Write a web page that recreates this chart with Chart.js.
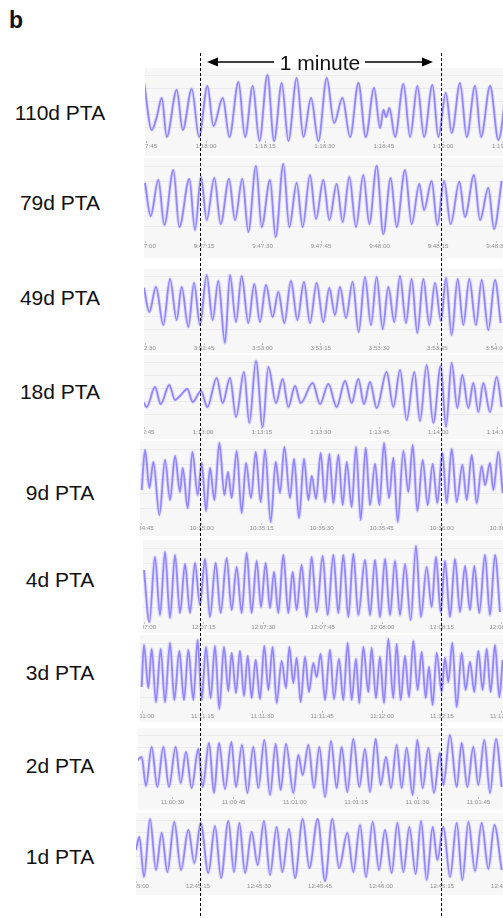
<!DOCTYPE html>
<html>
<head>
<meta charset="utf-8">
<script src="https://cdn.jsdelivr.net/npm/chart.js@4.4.0/dist/chart.umd.min.js"></script>
<style>
  body { margin: 0; background: #fff; }
  #fig { position: relative; width: 503px; height: 918px; overflow: hidden; font-family: "Liberation Sans", Arial, sans-serif; color: #111; }
  .panel { position: absolute; background: #f7f7f7; overflow: hidden; }
  .panel canvas { position: absolute; top: 0; }
  .lbl { position: absolute; left: 0; width: 120px; text-align: center; font-size: 21px; line-height: 24px; white-space: nowrap; }
</style>
</head>
<body>
<div id="fig">
  <div style="position:absolute;left:9px;top:7px;font-weight:bold;font-size:23px;line-height:26px">b</div>
</div>

<script>
// trace names and clock time of the first (cut off) tick label of each trace
const traceLabels = ['110d PTA', '79d PTA', '49d PTA', '18d PTA', '9d PTA', '4d PTA', '3d PTA', '2d PTA', '1d PTA'];
const startTimes = ['1:17:45', '9:47:00', '3:52:30', '1:12:45', '10:34:45', '12:07:00', '11:11:00', '11:00:15', '12:45:00'];

// breathing traces: seconds after start time, and signal level at each turning point
const time110d = [-0.7, 1.27, 2.53, 3.8, 5.06, 7.59, 9.11, 11.39, 13.25, 15.36, 16.88, 19.24, 20.93, 23.21, 24.89, 26.84, 28.52, 30.55, 32.24, 34.18, 35.86, 37.97, 39.66, 41.6, 43.46, 45.57, 47.43, 49.54, 51.48, 53.59, 55.44, 57.55, 59.07, 59.92, 60.59, 61.43, 62.87, 64.98, 66.67, 68.52, 70.21, 72.32, 73.84, 75.7, 77.22, 79.32, 81.01, 83.12, 84.64, 86.92, 89.03, 91.1];
const level110d = [59, 11, 24, 43, 4, 51, 11, 52, 4, 55, 15, 43, 4, 59, 4, 55, 0, 66, 0, 58, 0, 63, 4, 43, 0, 63, 18, 43, 4, 58, 4, 53, 13, 31, 24, 33, 4, 57, 4, 55, 4, 56, 4, 48, 8, 58, 4, 55, 4, 55, 1, 54];

const time79d = [-0.13, 1.32, 3.29, 4.83, 7.14, 8.68, 11.24, 12.69, 14.23, 15.68, 17.65, 19.27, 21.41, 22.95, 24.83, 26.37, 28.33, 29.79, 31.92, 33.38, 35.34, 36.88, 38.76, 40.3, 42.18, 43.72, 45.6, 47.14, 49.02, 50.56, 52.26, 53.97, 55.85, 57.39, 59.27, 60.98, 62.86, 64.4, 66.54, 68.25, 70.21, 71.41, 73.38, 74.83, 76.54, 78.25, 80.47, 81.92, 84.23, 85.77, 87.91, 89.36, 91.33];
const level79d = [58, 25, 61, 16, 71, 14, 62, 11, 64, 21, 63, 17, 62, 21, 62, 9, 75, 14, 61, 4, 77, 14, 58, 14, 66, 22, 61, 21, 57, 19, 64, 14, 66, 17, 75, 7, 63, 14, 71, 17, 57, 31, 60, 16, 60, 17, 59, 24, 66, 21, 53, 12, 60];

const time49d = [-0.43, 0.94, 2.66, 4.54, 6.26, 7.97, 9.25, 10.97, 12.43, 13.97, 15.68, 17.22, 18.68, 20.39, 21.68, 23.22, 24.68, 26.39, 27.93, 29.39, 30.93, 32.65, 34.1, 35.65, 37.36, 38.99, 40.7, 42.24, 43.96, 45.67, 47.21, 48.67, 49.96, 51.5, 53.21, 54.76, 56.38, 57.93, 59.38, 60.93, 62.38, 63.92, 65.38, 66.92, 68.38, 69.84, 71.38, 72.92, 74.38, 75.92, 77.21, 78.66, 80.21, 81.66, 83.2, 84.92, 86.38, 88.09, 89.8, 91.26];
const level49d = [55, 31, 56, 18, 64, 23, 56, 16, 60, 18, 68, 23, 62, 0, 68, 21, 67, 20, 59, 21, 58, 26, 51, 20, 62, 23, 61, 20, 60, 21, 55, 28, 56, 25, 61, 11, 66, 18, 66, 14, 56, 21, 67, 20, 64, 10, 64, 18, 60, 22, 65, 8, 64, 18, 64, 18, 63, 13, 63, 20];

const time18d = [-0.22, 0.63, 2.76, 4.2, 6.41, 7.86, 9.14, 11.0, 12.36, 14.49, 16.11, 18.49, 20.02, 21.89, 23.42, 25.46, 26.82, 28.52, 30.22, 31.67, 33.62, 35.32, 36.77, 38.47, 39.92, 42.98, 44.85, 46.98, 49.1, 51.23, 52.93, 54.63, 56.07, 57.6, 59.3, 61.85, 63.56, 65.26, 66.96, 68.91, 70.36, 72.06, 73.76, 75.63, 76.99, 78.44, 79.88, 81.16, 82.69, 83.96, 85.24, 86.51, 88.21, 89.91, 91.19];
const level18d = [25, 20, 40, 23, 42, 27, 31, 38, 25, 36, 20, 49, 24, 49, 10, 55, 4, 66, 0, 60, 24, 48, 20, 41, 24, 44, 23, 43, 20, 46, 24, 48, 23, 45, 19, 55, 20, 57, 7, 55, 6, 62, 4, 61, 0, 64, 19, 52, 19, 44, 15, 44, 15, 50, 20];

const time9d = [0, 0.83, 1.92, 2.92, 4.42, 5.83, 7.08, 8.33, 9.58, 10.25, 11.5, 12.67, 14, 15, 16.08, 17.08, 18.17, 19.42, 20.67, 21.58, 22.5, 23.75, 25, 26.08, 27.33, 28.5, 29.75, 30.83, 32.25, 33.5, 34.58, 35.67, 37.08, 38.08, 39.33, 40.58, 41.67, 42.5, 43.58, 44.75, 45.83, 46.92, 47.92, 49.17, 50.25, 51.25, 52.5, 53.58, 54.75, 56, 57.08, 58.33, 59.42, 60.58, 61.83, 62.92, 64, 65.42, 66.67, 67.75, 68.92, 70.25, 71.5, 72.75, 73.92, 75.17, 76.25, 77.5, 78.75, 80.17, 81.25, 82.5, 83.75, 85, 85.83, 87.08, 87.92, 89.17, 90.25];
const level9d = [33, 73, 35, 61, 8, 63, 23, 67, 31, 55, 15, 71, 28, 60, 12, 55, 23, 80, 28, 51, 25, 72, 10, 60, 25, 71, 21, 73, 1, 61, 30, 76, 25, 64, 5, 64, 23, 47, 24, 70, 21, 69, 20, 68, 18, 61, 16, 76, 3, 75, 18, 59, 18, 80, 25, 65, 1, 72, 31, 78, 12, 63, 18, 59, 20, 70, 20, 74, 21, 58, 23, 68, 20, 57, 38, 60, 33, 71, 30];

const time4d = [-0.04, 1.3, 2.73, 3.99, 5.25, 6.51, 7.77, 9.03, 10.29, 11.55, 12.8, 14.06, 15.32, 16.58, 18.01, 19.27, 20.78, 22.04, 23.3, 24.56, 25.82, 27.08, 28.34, 29.43, 30.61, 31.7, 32.7, 33.79, 35.05, 36.31, 37.41, 38.41, 39.67, 40.93, 42.19, 43.45, 44.96, 46.22, 47.65, 48.91, 50.17, 51.43, 52.69, 53.95, 55.63, 56.89, 58.15, 59.41, 60.67, 61.93, 63.19, 64.45, 65.71, 67.14, 68.47, 69.73, 71.16, 72.42, 73.51, 74.69, 75.78, 77.04, 78.3, 79.56, 80.82, 82.07, 83.16, 84.42, 85.85, 87.11, 88.37, 89.63];
const level4d = [52, 0, 65, 7, 70, 4, 67, 9, 58, 9, 59, 17, 63, 5, 59, 9, 64, 12, 55, 9, 69, 9, 61, 15, 59, 14, 50, 9, 67, 9, 50, 12, 57, 5, 65, 10, 66, 7, 67, 9, 67, 5, 68, 7, 62, 7, 62, 5, 63, 7, 61, 7, 58, 2, 76, 5, 55, 15, 65, 10, 61, 5, 63, 10, 56, 12, 56, 9, 67, 7, 67, 10];

const time3d = [-0.25, 0.33, 1.42, 2.26, 3.34, 4.51, 5.6, 6.85, 7.94, 9.19, 10.36, 11.45, 12.7, 13.78, 14.79, 15.87, 17.04, 18.13, 19.21, 20.38, 21.47, 22.31, 23.39, 24.39, 25.4, 26.32, 27.32, 28.32, 29.41, 30.49, 31.5, 32.58, 33.58, 34.84, 35.92, 36.76, 37.76, 38.6, 39.6, 40.69, 41.69, 42.77, 43.61, 44.61, 45.7, 46.95, 47.95, 49.21, 50.29, 51.38, 52.38, 53.47, 54.3, 55.31, 56.56, 57.39, 58.48, 59.48, 60.49, 61.57, 62.82, 63.66, 64.66, 65.75, 66.75, 67.84, 68.92, 69.93, 70.93, 71.76, 72.68, 73.68, 74.94, 75.77, 76.61, 77.61, 78.7, 79.95, 80.95, 82.04, 83.12, 84.13, 85.21, 86.22, 87.22, 88.3, 89.39, 90.23];
const level3d = [24, 66, 23, 62, 9, 62, 9, 68, 11, 60, 11, 61, 11, 71, 11, 64, 13, 65, 2, 64, 20, 58, 18, 60, 15, 55, 13, 51, 12, 65, 21, 64, 8, 50, 23, 64, 28, 53, 9, 54, 19, 48, 34, 57, 11, 61, 12, 52, 11, 68, 11, 52, 8, 64, 19, 63, 13, 54, 8, 72, 13, 67, 11, 55, 14, 70, 21, 59, 13, 44, 6, 58, 19, 53, 29, 68, 4, 58, 21, 49, 19, 60, 21, 62, 19, 66, 14, 51];

const time2d = [6.2, 7.44, 8.5, 9.89, 11.28, 12.75, 14.14, 15.77, 17.0, 18.31, 19.69, 21.33, 22.39, 23.95, 25.17, 26.4, 27.87, 29.42, 30.56, 32.03, 33.34, 34.81, 36.04, 37.51, 38.9, 40.29, 41.51, 42.82, 44.62, 45.84, 46.9, 48.3, 49.68, 50.99, 52.38, 53.85, 55.24, 56.46, 57.85, 59.32, 60.79, 62.18, 63.41, 64.79, 66.02, 67.33, 68.55, 69.94, 71.17, 72.39, 73.86, 75.01, 76.32, 77.71, 79.09, 80.56, 81.38, 83.01, 84.65, 85.87, 87.26, 88.73, 89.96, 91.43, 92.82, 94.29, 95.68];
const level2d = [36, 40, 11, 50, 10, 50, 10, 50, 14, 45, 9, 48, 10, 54, 4, 54, 8, 55, 10, 52, 4, 50, 9, 57, 2, 53, 7, 53, 4, 42, 22, 52, 9, 50, 0, 56, 9, 50, 5, 58, 10, 48, 5, 58, 12, 40, 9, 52, 9, 49, 2, 57, 9, 49, 4, 44, 12, 62, 10, 54, 10, 50, 12, 57, 4, 58, 10];

const time1d = [-0.25, 0.57, 1.72, 3.2, 4.67, 6.07, 7.46, 9.18, 10.82, 12.62, 14.1, 15.66, 17.54, 19.18, 20.66, 22.46, 23.85, 25.16, 26.56, 28.2, 29.67, 31.23, 32.7, 34.34, 35.74, 37.38, 38.85, 40.74, 42.38, 44.43, 46.23, 48.03, 49.67, 51.72, 53.2, 54.84, 56.31, 57.95, 59.51, 60.98, 62.62, 64.02, 65.49, 66.97, 68.52, 69.84, 71.23, 72.7, 73.85, 75.33, 76.97, 78.61, 80, 81.48, 83.11, 84.75, 86.39, 87.87, 89.67];
const level1d = [31, 44, 4, 62, 11, 48, 9, 59, 11, 51, 18, 58, 8, 55, 3, 60, 9, 58, 8, 49, 16, 60, 6, 54, 9, 52, 3, 62, 13, 62, 0, 62, 13, 48, 9, 56, 4, 59, 11, 51, 8, 58, 9, 54, 7, 60, 1, 54, 21, 54, 4, 58, 1, 59, 10, 58, 12, 56, 11];

const traces = [
  [time110d, level110d], [time79d, level79d], [time49d, level49d], [time18d, level18d],
  [time9d, level9d], [time4d, level4d], [time3d, level3d], [time2d, level2d], [time1d, level1d]
];

// page layout of each screenshot strip
const panelBoxes = [
  { top: 68,  bottom: 156, left: 145, axisY: 141, x0: 146.75, pps: 3.95,  labelY: 101 },
  { top: 158, bottom: 258, left: 144, axisY: 241, x0: 145.5,  pps: 3.9,   labelY: 191 },
  { top: 269, bottom: 353, left: 144, axisY: 343, x0: 145.65, pps: 3.89,  labelY: 286 },
  { top: 355, bottom: 439, left: 144, axisY: 427, x0: 144.2,  pps: 3.92,  labelY: 380 },
  { top: 441, bottom: 536, left: 140, axisY: 523, x0: 141.7,  pps: 4.0,   labelY: 481 },
  { top: 540, bottom: 633, left: 143, axisY: 622, x0: 144.15, pps: 3.97,  labelY: 568 },
  { top: 635, bottom: 722, left: 140, axisY: 711, x0: 142.65, pps: 3.99,  labelY: 661 },
  { top: 728, bottom: 810, left: 138, axisY: 797, x0: 111.3,  pps: 4.08,  labelY: 754 },
  { top: 813, bottom: 895, left: 136, axisY: 881, x0: 137,    pps: 4.067, labelY: 845 }
];

const CANVAS_LEFT = 60, CANVAS_W = 540, AXIS_H = 10;
const fig = document.getElementById('fig');

function toSec(str) {
  const p = str.split(':').map(Number);
  return p[0] * 3600 + p[1] * 60 + p[2];
}
function clock(sec) {
  const h = Math.floor(sec / 3600), m = Math.floor((sec % 3600) / 60), s = Math.round(sec % 60);
  return h + ':' + String(m).padStart(2, '0') + ':' + String(s).padStart(2, '0');
}

traces.forEach(([times, levels], i) => {
  const box = panelBoxes[i];

  const lbl = document.createElement('div');
  lbl.className = 'lbl';
  lbl.style.top = box.labelY + 'px';
  lbl.textContent = traceLabels[i];
  fig.appendChild(lbl);

  const div = document.createElement('div');
  div.className = 'panel';
  div.style.left = box.left + 'px';
  div.style.top = box.top + 'px';
  div.style.width = (503 - box.left) + 'px';
  div.style.height = (box.bottom - box.top) + 'px';
  const cv = document.createElement('canvas');
  const h = box.axisY - box.top + AXIS_H;
  cv.width = CANVAS_W; cv.height = h;
  cv.style.width = CANVAS_W + 'px'; cv.style.height = h + 'px';
  cv.style.left = (CANVAS_LEFT - box.left) + 'px';
  div.appendChild(cv);
  fig.appendChild(div);

  const xMin = (CANVAS_LEFT - box.x0) / box.pps;
  const xMax = xMin + CANVAS_W / box.pps;
  const yMax = box.axisY - box.top;
  const start = toSec(startTimes[i]);
  const points = times.map((t, k) => ({ x: t, y: levels[k] }));

  new Chart(cv, {
    type: 'line',
    data: {
      datasets: [{
        data: points,
        borderColor: 'rgba(126,112,255,0.78)',
        borderWidth: 1.8,
        pointRadius: 0,
        cubicInterpolationMode: 'monotone',
        fill: false,
        clip: false
      }, {
        // soft halo of the screenshot's blurred stroke
        data: points,
        borderColor: 'rgba(150,140,255,0.25)',
        borderWidth: 3.6,
        pointRadius: 0,
        cubicInterpolationMode: 'monotone',
        fill: false,
        clip: false
      }]
    },
    options: {
      responsive: false,
      animation: false,
      devicePixelRatio: 1,
      layout: { padding: 0 },
      plugins: { legend: { display: false }, tooltip: { enabled: false } },
      scales: {
        x: {
          type: 'linear', min: xMin, max: xMax, bounds: 'data',
          afterBuildTicks: ax => {
            const ticks = [];
            for (let t = Math.ceil(xMin / 15) * 15; t <= xMax; t += 15) ticks.push({ value: t });
            ax.ticks = ticks;
          },
          afterFit: ax => { ax.height = AXIS_H; ax.paddingLeft = 0; ax.paddingRight = 0; },
          ticks: {
            callback: v => clock(start + v),
            font: { family: 'Liberation Sans', size: 6.2 },
            color: '#909090', padding: 0, maxRotation: 0, autoSkip: false
          },
          grid: { drawOnChartArea: false, tickLength: 2, tickColor: '#c4c4c4' },
          border: { display: false }
        },
        y: {
          min: 0, max: yMax,
          afterBuildTicks: ax => { ax.ticks = [1, 2, 3, 4, 5].map(k => ({ value: yMax * k / 5.6 })); },
          afterFit: ax => { ax.width = 0; },
          ticks: { display: false },
          grid: { color: '#ebebeb', drawTicks: false, lineWidth: 1 },
          border: { display: false }
        }
      }
    }
  });
});

// dashed one-minute markers and the arrow annotation
const svgNS = 'http://www.w3.org/2000/svg';
const svg = document.createElementNS(svgNS, 'svg');
svg.setAttribute('width', 503); svg.setAttribute('height', 918);
svg.style.position = 'absolute'; svg.style.left = '0'; svg.style.top = '0';
svg.innerHTML =
  '<line x1="200.5" y1="53" x2="200.5" y2="916" stroke="#000" stroke-width="1" stroke-dasharray="3,2"/>' +
  '<line x1="441.5" y1="53" x2="441.5" y2="916" stroke="#000" stroke-width="1" stroke-dasharray="3,2"/>' +
  '<line x1="214" y1="62" x2="274" y2="62" stroke="#000" stroke-width="1.6"/>' +
  '<polygon points="207,62 218,57.5 218,66.5" fill="#000"/>' +
  '<line x1="365" y1="62" x2="426" y2="62" stroke="#000" stroke-width="1.6"/>' +
  '<polygon points="433,62 422,57.5 422,66.5" fill="#000"/>';
fig.appendChild(svg);

const minuteLbl = document.createElement('div');
minuteLbl.className = 'lbl';
minuteLbl.style.left = '270px'; minuteLbl.style.width = '100px'; minuteLbl.style.top = '51px';
minuteLbl.textContent = '1 minute';
fig.appendChild(minuteLbl);
</script>
</body>
</html>
